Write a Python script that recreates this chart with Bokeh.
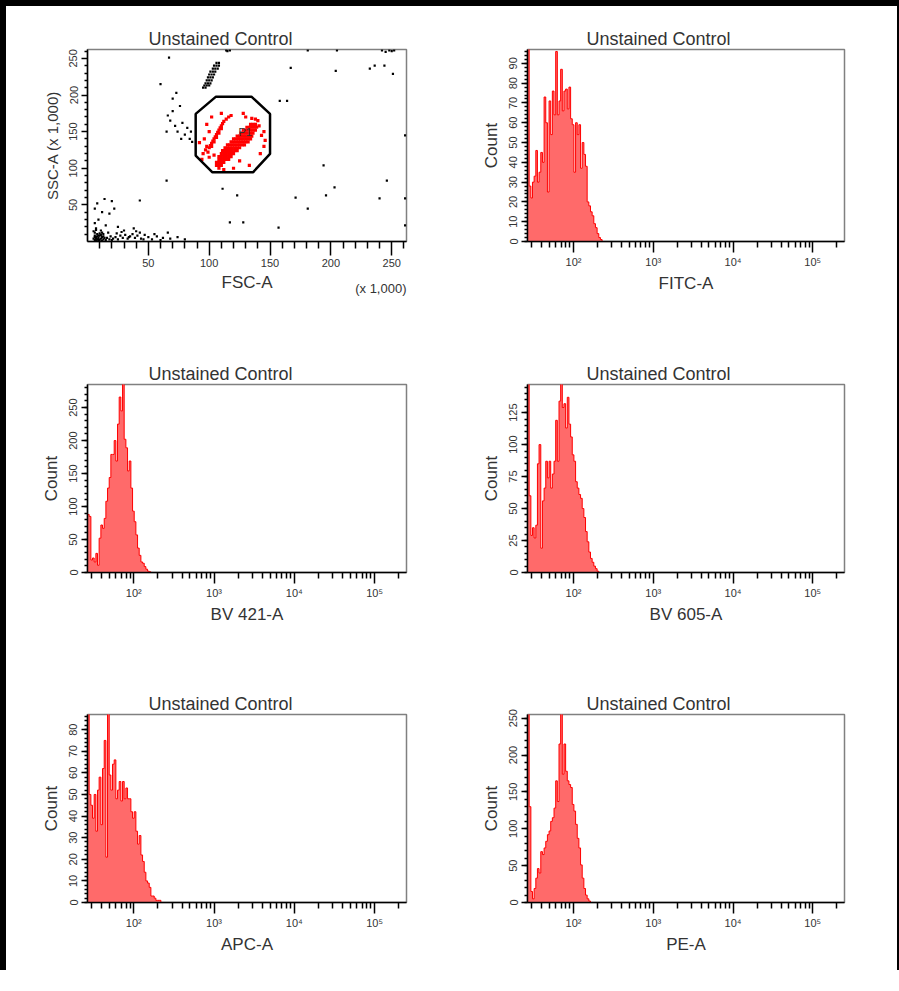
from bokeh.plotting import figure
from bokeh.layouts import column, row
from bokeh.models import Range1d, FixedTicker, SingleIntervalTicker, CustomJSTickFormatter, Label, Title
from bokeh.embed import file_html
from bokeh.resources import INLINE

FONT = "Liberation Sans"
TITLE = "Unstained Control"
TXT = "#333333"

# ---------------- scatter data (FSC-A / SSC-A, x 1,000) ----------------
gate_fsc = [105.6, 134.7, 150.0, 150.0, 136.0, 102.7, 88.9, 88.9]
gate_ssc = [197.8, 197.8, 174.2, 119.6, 94.5, 94.5, 117.3, 174.2]
gate_name = "P1"

# dense gated population (red): SSC level -> FSC values
red_rows = {
    104: [106, 108, 110],
    108: [106, 108, 110, 112],
    112: [108, 110, 112, 114, 116],
    116: [108, 110, 112, 114, 116, 118],
    120: [110, 112, 114, 116, 118, 120],
    124: [111, 113, 115, 117, 119, 121, 123],
    128: [113, 115, 117, 119, 121, 123, 125],
    132: [115, 117, 119, 121, 123, 125, 127, 129],
    136: [118, 120, 122, 124, 126, 128, 130, 132],
    140: [120, 122, 124, 126, 128, 130, 132, 134],
    144: [123, 125, 127, 129, 131, 133, 135],
    148: [126, 128, 130, 132, 134, 136],
    152: [128, 130, 132, 134, 136, 138],
    156: [131, 133, 135, 137, 139],
    160: [134, 136, 138],
}
red_extra_fsc = [100, 101, 102, 103, 104, 105, 106, 107, 108, 109, 110, 111, 112, 114, 116, 118,
                 102, 104, 106, 108, 110, 97, 99,
                 95, 98, 100, 96, 102, 130, 140, 145, 142, 108, 120, 125, 100, 98, 128, 135, 110, 92, 145,
                 141, 143, 138, 104, 94, 112, 146, 133]
red_extra_ssc = [128, 131, 134, 137, 140, 143, 146, 149, 152, 155, 158, 161, 164, 167, 170, 172,
                 130, 136, 142, 148, 154, 125, 122,
                 120, 160, 150, 140, 170, 170, 165, 130, 120, 100, 100, 110, 115, 130, 175, 168, 175, 135, 150,
                 158, 145, 167, 118, 112, 98, 138, 104]

# doublets above the gate (black): SSC level -> FSC values
doublet_rows = {
    210: [95, 97],
    213: [96, 98, 100],
    216: [97, 99, 101],
    220: [98, 100, 102],
    224: [99, 101, 103],
    228: [100, 102, 104],
    232: [101, 103, 105],
    236: [103, 105, 107],
    240: [104, 106, 108],
    244: [106, 108],
}

black_fsc = [6, 7, 8, 9, 10, 11, 12, 13, 14, 6, 8, 10, 7, 9, 12, 15, 16, 18, 19, 21, 23, 25, 27, 29, 31, 33, 35,
             37, 39, 41, 44, 47, 50, 53, 57, 62, 68, 74, 80, 6, 7, 6, 9, 6, 8, 14, 20, 22, 18, 25, 30, 43, 38, 12, 15,
             5, 6, 7, 8, 9, 10, 11, 12, 13, 5, 7, 9, 11, 13, 17, 20, 24, 28, 34, 40, 46, 55, 60, 66,
             66, 68, 70, 72, 74, 76, 78, 80, 82, 84, 86, 70, 73, 65, 77, 85,
             65, 43, 111, 117, 128, 157, 194, 203, 196, 171, 181, 246, 240, 158, 164, 167, 204, 67, 60, 123, 244,
             236, 251, 232,
             114, 115, 117, 181, 205, 242, 248, 250, 252, 245, 261, 261, 261]
black_ssc = [2, 4, 3, 5, 2, 4, 6, 3, 5, 6, 7, 8, 1, 1, 1, 2, 5, 3, 7, 4, 6, 3, 8, 5, 9, 4, 7,
             10, 5, 8, 4, 9, 6, 3, 7, 5, 4, 6, 3, 12, 18, 25, 30, 45, 52, 58, 55, 45, 38, 20, 15, 12, 18, 40, 22,
             4, 8, 6, 10, 8, 11, 9, 12, 7, 14, 16, 3, 15, 10, 12, 2, 11, 13, 6, 14, 3, 10, 2, 12,
             172, 165, 178, 158, 150, 185, 162, 146, 155, 140, 136, 195, 203, 150, 140, 150,
             83, 56, 72, 26, 26, 19, 104, 74, 63, 60, 45, 83, 59, 192, 192, 237, 233, 251, 215, 63, 240,
             240, 229, 236,
             261, 260, 261, 261, 261, 261, 261, 260, 261, 259, 145, 59, 22]

# ---------------- histogram data ----------------
bin_edges = [26.5, 27.8, 29.2, 30.6, 32.1, 33.7, 35.3, 37.0, 38.9, 40.8, 42.8, 44.9, 47.1, 49.4, 51.8, 54.3,
             57.0, 59.8, 62.7, 65.8, 69.0, 72.4, 75.9, 79.7, 83.6, 87.7, 92.0, 96.5, 101.2, 106.2, 111.4, 116.8,
             122.6, 128.6, 134.9, 141.5, 148.4, 155.7, 163.3, 171.3, 179.7, 188.5, 197.8, 207.5, 217.6, 228.3, 239.5]

fitc_counts = [300, 28, 22, 30, 33, 46, 30, 35, 45, 40, 73, 60, 25, 71, 54, 76, 64, 96, 64, 71, 87, 66, 76, 77,
               67, 78, 62, 59, 35, 60, 54, 59, 37, 50, 44, 38, 20, 18, 15, 13, 9, 7, 4, 2, 1]
bv421_counts = [88, 85, 19, 22, 16, 29, 11, 52, 72, 67, 82, 108, 128, 144, 179, 179, 200, 169, 225, 266, 245,
                300, 202, 189, 154, 169, 128, 93, 77, 57, 37, 26, 16, 14, 9, 5, 2, 1]
bv605_counts = [300, 60, 29, 35, 27, 37, 85, 100, 19, 56, 66, 87, 74, 87, 66, 77, 87, 119, 87, 134, 150, 129,
                132, 113, 137, 116, 106, 92, 87, 71, 66, 61, 58, 50, 43, 32, 24, 16, 11, 8, 5, 3, 1]
apc_counts = [300, 50, 45, 39, 50, 33, 52, 58, 36, 62, 75, 21, 90, 59, 52, 64, 66, 48, 52, 56, 47, 56, 48, 53,
              48, 48, 42, 39, 42, 33, 27, 31, 22, 19, 14, 10, 9, 7, 3, 3, 2, 1, 1, 1]
pe_counts = [600, 130, 15, 5, 19, 33, 46, 40, 69, 65, 74, 83, 92, 97, 110, 115, 128, 165, 137, 215, 260, 174,
             215, 178, 165, 160, 156, 133, 124, 106, 87, 74, 51, 33, 19, 10, 5, 2]

log_major = [100, 1000, 10000, 100000]
log_minor = [30, 40, 50, 60, 70, 80, 90, 200, 300, 400, 500, 600, 700, 800, 900,
             2000, 3000, 4000, 5000, 6000, 7000, 8000, 9000,
             20000, 30000, 40000, 50000, 60000, 70000, 80000, 90000, 200000]
lin_major = [50, 100, 150, 200, 250]
lin_minor = [10, 20, 30, 40, 60, 70, 80, 90, 110, 120, 130, 140, 160, 170, 180, 190, 210, 220, 230, 240, 260]


def rows_to_xy(rows):
    xs, ys = [], []
    for yv, xl in rows.items():
        for xv in xl:
            xs.append(xv)
            ys.append(yv)
    return xs, ys


def base_style(p, title_offset):
    p.toolbar_location = None
    p.xgrid.visible = False
    p.ygrid.visible = False
    p.outline_line_color = "#808080"
    p.outline_line_width = 1.5
    p.background_fill_color = "white"
    p.border_fill_color = "white"
    p.title.text_font = FONT
    p.title.text_font_size = "18px"
    p.title.text_font_style = "normal"
    p.title.text_color = TXT
    p.title.align = "left"
    p.title.offset = title_offset
    p.title.standoff = 1
    for ax in p.axis:
        ax.axis_line_color = "black"
        ax.axis_line_width = 1.5
        ax.major_tick_line_color = "black"
        ax.major_tick_line_width = 1.5
        ax.minor_tick_line_color = "black"
        ax.minor_tick_line_width = 1.5
        ax.major_tick_in = 0
        ax.minor_tick_in = 0
        ax.major_label_text_font = FONT
        ax.major_label_text_font_size = "11px"
        ax.major_label_text_color = TXT
        ax.axis_label_text_font = FONT
        ax.axis_label_text_font_size = "17px"
        ax.axis_label_text_font_style = "normal"
        ax.axis_label_text_color = TXT
    p.yaxis.major_label_orientation = "parallel"
    p.yaxis.major_tick_out = 6
    p.yaxis.minor_tick_out = 3
    p.yaxis.major_label_standoff = 4
    p.yaxis.axis_label_standoff = 6


def scatter_fig(width, height, mbl, mbr, mbt, mbb):
    p = figure(width=width, height=height, x_range=Range1d(0, 262.144), y_range=Range1d(0, 262.144),
               output_backend="svg", toolbar_location=None, title=TITLE,
               min_border_left=mbl, min_border_right=mbr, min_border_top=mbt, min_border_bottom=mbb)
    base_style(p, 61)
    p.xaxis.ticker = FixedTicker(ticks=lin_major, minor_ticks=lin_minor)
    p.yaxis.ticker = FixedTicker(ticks=lin_major, minor_ticks=lin_minor)
    p.xaxis.major_tick_out = 14
    p.xaxis.minor_tick_out = 7
    p.xaxis.major_label_standoff = 3
    p.xaxis.axis_label_standoff = 3
    p.xaxis.axis_label = "FSC-A"
    p.yaxis.axis_label = "SSC-A (x 1,000)"
    p.yaxis.axis_label_text_font_size = "15px"
    dx, dy = rows_to_xy(doublet_rows)
    p.scatter(black_fsc + dx, black_ssc + dy, marker="square", size=2.2, color="black", line_color=None)
    rx, ry = rows_to_xy(red_rows)
    p.scatter(rx + red_extra_fsc, ry + red_extra_ssc, marker="square", size=3.2, color="#ff0000",
              line_color=None)
    p.patch(gate_fsc, gate_ssc, fill_color=None, line_color="black", line_width=2.5)
    p.add_layout(Label(x=124, y=150, text=gate_name, text_font=FONT, text_font_size="11px",
                       text_color=TXT, text_baseline="middle"))
    p.add_layout(Title(text="(x 1,000)", align="right", vertical_align="top", standoff=-28,
                       text_font=FONT, text_font_size="13px", text_font_style="normal",
                       text_color=TXT), "below")
    return p


def hist_fig(counts, ymax, yint, xlabel, width, height, mbl, mbr, mbt, mbb, toff):
    p = figure(width=width, height=height, x_axis_type="log", x_range=Range1d(26.5, 250000),
               y_range=Range1d(0, ymax), output_backend="svg", toolbar_location=None, title=TITLE,
               min_border_left=mbl, min_border_right=mbr, min_border_top=mbt, min_border_bottom=mbb)
    base_style(p, toff)
    edges = bin_edges[:len(counts) + 1]
    p.varea_step(x=edges, y1=[0] * len(edges), y2=counts + [0], step_mode="after", fill_color="#ff6a6a")
    p.step(x=edges, y=counts + [0], mode="after", line_color="#ff0000", line_width=1)
    p.xaxis.ticker = FixedTicker(ticks=log_major, minor_ticks=log_minor)
    p.xaxis.formatter = CustomJSTickFormatter(code="""
        const sup = {2: '\u00b2', 3: '\u00b3', 4: '\u2074', 5: '\u2075'};
        const e = Math.round(Math.log10(tick));
        return '10' + (sup[e] || '');
    """)
    p.xaxis.major_tick_out = 11
    p.xaxis.minor_tick_out = 6
    p.xaxis.major_label_standoff = 3
    p.xaxis.axis_label_standoff = 3
    p.xaxis.axis_label = xlabel
    p.yaxis.ticker = SingleIntervalTicker(interval=yint, num_minor_ticks=5)
    p.yaxis.axis_label = "Count"
    return p


W1, W2 = 441, 450
H1, H2, H3 = 330, 331, 303

p1 = scatter_fig(W1, H1, 81, 41, 43, 95)
p2 = hist_fig(fitc_counts, 97, 10, "FITC-A", W2, H1, 80, 53, 43, 95, 59)
p3 = hist_fig(bv421_counts, 285, 50, "BV 421-A", W1, H2, 81, 41, 48, 95, 61)
p4 = hist_fig(bv605_counts, 147, 25, "BV 605-A", W2, H2, 80, 53, 48, 95, 59)
p5 = hist_fig(apc_counts, 87, 10, "APC-A", W1, H3, 81, 41, 47, 68, 61)
p6 = hist_fig(pe_counts, 255, 50, "PE-A", W2, H3, 80, 53, 47, 68, 59)

layout = column(row(p1, p2), row(p3, p4), row(p5, p6),
                styles={"border-left": "6px solid black", "border-top": "6px solid black",
                        "border-right": "6px solid black", "background-color": "white"})

open("out.html", "w").write(file_html(layout, INLINE))
